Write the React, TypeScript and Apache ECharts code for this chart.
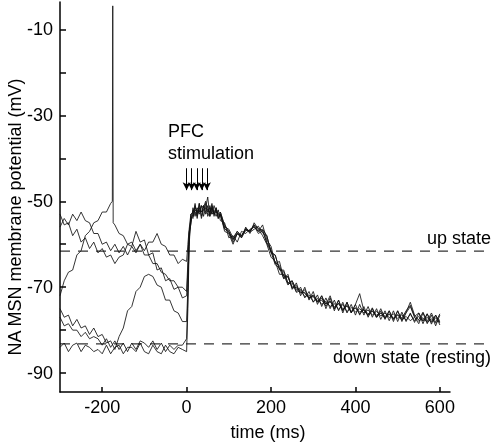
import React, { useEffect, useRef } from "react";
import * as echarts from "echarts";

const preTime = [-300, -290, -280, -270, -260, -250, -240, -230, -220, -210, -200, -190, -180, -170, -160, -150, -140, -130, -120, -110, -100, -90, -80, -70, -60, -50, -40, -30, -20, -10, 0];
const postTime = [3, 6, 10, 15, 20, 25, 30, 35, 40, 45, 50, 55, 60, 65, 70, 75, 80,
  90, 100, 110, 120, 130, 140, 150, 160, 170, 180, 190,
  200, 210, 220, 230, 240, 250, 260, 270, 280, 290, 300,
  310, 320, 330, 340, 350, 360, 370, 380, 390, 400,
  410, 420, 430, 440, 450, 460, 470, 480, 490, 500,
  510, 520, 530, 540, 550, 560, 570, 580, 590, 600];

const trace1Pre = [-53, -55.5, -55, -58, -56.5, -59.5, -58.5, -61, -59.5, -62, -61, -63, -62.5, -64.5, -63, -62.5, -60, -60.5, -57, -59.5, -59, -62.5, -62, -66, -65.5, -68.5, -68, -70.5, -70, -72.5, -72];
const trace1Post = [-66, -58.5, -54, -53.5, -50.5, -54, -50.5, -54, -52, -50.5, -53.5, -52.5, -50.5, -53.5, -51.5, -54, -53,
  -57, -57.5, -60, -57.5, -58, -56.5, -57, -55.5, -57, -55.5, -59,
  -60.5, -64.5, -64, -68, -67, -70.5, -69, -72, -70, -73, -71,
  -74, -72, -75, -72.5, -75.5, -73, -76, -73.5, -76, -74,
  -76.5, -74.5, -77, -75, -77, -75.5, -77.5, -75.5, -78, -75.5,
  -78, -76, -74.5, -77, -78.5, -76, -78.5, -76.5, -79, -76.5];

const trace2Pre = [-56, -54, -55.5, -53, -54.5, -52.5, -54.5, -55, -57.5, -57.5, -60, -59.5, -61.5, -60, -62, -60.5, -62.5, -60.5, -62, -60, -61.5, -59.5, -59.5, -57.5, -60, -60.5, -62.5, -62.5, -64.5, -63.5, -64];
const trace2Post = [-60, -56.5, -53, -52.5, -51.5, -52, -53, -51, -51.5, -50, -52.5, -51.5, -53, -51, -52.5, -53, -52.5,
  -56, -56.5, -58.5, -57, -58.5, -56, -57.5, -55, -56.5, -58, -60,
  -63, -64, -67, -67, -69.5, -68.5, -71, -70, -72.5, -71, -73.5,
  -71.8, -74.5, -72.5, -75, -73, -75.5, -73.5, -76, -74, -76.5,
  -74, -76.5, -74.5, -77, -75, -77.5, -75.5, -77.8, -75.5, -78,
  -75.8, -78, -76, -78.2, -76, -78.5, -76.2, -78.6, -76.5, -78.8];

const trace3Pre = [-72, -68.5, -66.5, -66, -62.5, -61.5, -58, -57, -55, -54.5, -52.5, -52.5, -50.5, -55.5, -57.5, -58, -60, -59.5, -61.5, -60, -62.5, -62.5, -64.5, -64.5, -66.5, -67, -68.5, -68.5, -70, -70, -71];
const trace3Post = [-64, -57, -55.5, -51.5, -53.5, -51.5, -52.5, -51, -53.5, -51.5, -49, -53.5, -51, -52.5, -53.5, -52, -54.5,
  -55, -58.5, -58, -59.5, -57, -57.5, -56.5, -56, -57, -56.5, -58,
  -62, -62.5, -66, -66, -69, -68.5, -70.5, -70.5, -71.5, -72.5, -72,
  -73.5, -72, -74, -72, -75, -73, -75.5, -73.5, -76, -74,
  -71.5, -75.5, -76.5, -74.8, -77, -75, -77.2, -75.5, -77.5, -75.5,
  -77.6, -75.8, -73.5, -76.5, -77.6, -75.8, -78, -76, -78.2, -76.2];
const spikeTime = [-176, -175, -174];
const spikeValues = [-50, -4.5, -55];

const trace4Pre = [-75, -77, -76.5, -79, -77.5, -79.5, -79, -81, -79.5, -81.5, -81, -83, -82.5, -84.5, -81.5, -79.5, -75.5, -74.5, -71, -70, -67.5, -67, -67.5, -69.5, -70, -73, -73, -75.5, -76, -78, -78];
const trace4Post = [-70, -59.5, -53.5, -54, -51, -53, -50.5, -53.5, -51, -52.5, -53, -51, -53, -52.5, -51.5, -53.5, -53,
  -56.5, -57, -59.5, -57.5, -58.5, -56.8, -56.8, -55.8, -57.5, -56.8, -59.8,
  -61.8, -64.8, -65.5, -68, -67.5, -70.2, -70, -71.2, -71.2, -72.5, -72.2,
  -73.4, -73, -74.4, -73.2, -75, -73.8, -75.4, -74.2, -75.8, -74.8,
  -76.2, -75.2, -76.6, -75.5, -77, -76, -77.2, -76.3, -77.4, -76.5,
  -77.6, -76.8, -77.8, -77, -77.9, -77.1, -78.2, -77.4, -78.3, -77.6];

const trace5Pre = [-77, -79, -78.5, -80, -80, -81.5, -80.5, -82, -81.5, -82, -83.5, -82, -84, -82.5, -84.5, -83, -85, -83, -84.5, -82.5, -83, -84, -82.5, -84.5, -83, -85, -83.5, -84.5, -83.5, -83.5, -82];
const trace5Post = [-72, -57.5, -55, -52, -52.5, -53.5, -51.5, -52.5, -51, -53, -51, -53.5, -51.5, -53, -52, -54, -52.5,
  -55.5, -57, -58.8, -57.6, -58.2, -56.3, -57, -55.5, -56.3, -56.8, -59.5,
  -61.3, -64.3, -65, -67.4, -67.6, -70, -69.6, -71.4, -70.6, -72.6, -71.8,
  -73.2, -72.6, -73.9, -73.4, -74.6, -73.8, -75, -74.4, -75.6, -74.8,
  -75.8, -75.2, -76.2, -75.6, -76.5, -76, -76.8, -76.2, -77.2, -76.4,
  -77.2, -75.5, -74.2, -76.8, -76, -77.8, -76.2, -78, -76.5, -78.1];

const trace6Pre = [-84, -83, -85, -83.5, -83, -85, -83.5, -84, -85, -84.5, -85.5, -83.5, -85.5, -84, -83.5, -85.5, -84, -84, -85, -83, -85, -85.5, -83.5, -85, -85.5, -83.5, -85, -85.5, -84, -84.5, -85];
const trace6Post = [-75, -60.5, -53, -53.5, -52, -52.5, -52, -52.5, -52, -51.5, -52, -52.5, -51.5, -53, -52.5, -53, -53.2,
  -56.3, -57.3, -59, -57, -58, -56.5, -57.2, -56.5, -55.8, -57.4, -58,
  -61.8, -62.6, -65.8, -66.4, -69.2, -69, -71.2, -70.8, -72.2, -71.8, -73.4,
  -72.6, -74, -73.3, -74.5, -73.8, -75.2, -74, -75.7, -74.7, -75.8,
  -75, -76, -75.3, -76.5, -75.6, -76.7, -76, -77.1, -76.2, -77.3,
  -76.4, -77.7, -76.3, -77.8, -76.8, -77.9, -77, -78.2, -77.1, -78.3];

const stimTimes = [0, 12, 24, 36, 48];
const upStateMv = -61.6;
const downStateMv = -83.2;
const xTicks = [-200, 0, 200, 400, 600];
const yTicks = [-90, -80, -70, -60, -50, -40, -30, -20, -10];
const yLabels = [-90, -70, -50, -30, -10];

const FONT = "'Liberation Sans', Arial, Helvetica, sans-serif";

function buildTrace(pre: number[], post: number[], extraT?: number[], extraV?: number[]) {
  const pts: number[][] = [];
  pre.forEach((v, i) => pts.push([preTime[i], v]));
  post.forEach((v, i) => pts.push([postTime[i], v]));
  if (extraT && extraV) {
    extraT.forEach((t, i) => pts.push([t, extraV[i]]));
    pts.sort((a, b) => a[0] - b[0]);
  }
  return pts;
}

export default function App() {
  const ref = useRef<HTMLDivElement>(null);
  useEffect(() => {
    if (!ref.current) return;
    const chart = echarts.init(ref.current, null, { renderer: "svg" });
    const traces = [
      buildTrace(trace1Pre, trace1Post),
      buildTrace(trace2Pre, trace2Post),
      buildTrace(trace3Pre, trace3Post, spikeTime, spikeValues),
      buildTrace(trace4Pre, trace4Post),
      buildTrace(trace5Pre, trace5Post),
      buildTrace(trace6Pre, trace6Post),
    ];
    const axisLineStyle = { color: "#000", width: 1.5 };
    const series: any[] = traces.map((d, i) => ({
      type: "line",
      data: d,
      showSymbol: false,
      symbol: "none",
      silent: true,
      lineStyle: { color: "#111", width: 0.85 },
      emphasis: { disabled: true },
      z: 2,
      ...(i === 0
        ? {
            markLine: {
              silent: true,
              symbol: ["none", "arrow"],
              symbolSize: [6, 8],
              label: { show: false },
              emphasis: { disabled: true },
              lineStyle: { color: "#000", width: 1, type: "solid" },
              itemStyle: { color: "#000" },
              data: stimTimes.map((t) => [{ coord: [t, -42.3] }, { coord: [t, -47.4] }]),
            },
          }
        : {}),
    }));
    chart.setOption({
      animation: false,
      grid: { left: 60, right: 48, top: 2, bottom: 53 },
      xAxis: {
        type: "value",
        min: -300,
        max: 624,
        axisLine: { show: true, onZero: false, lineStyle: axisLineStyle },
        axisTick: { show: true, inside: true, length: 5, customValues: xTicks, lineStyle: axisLineStyle },
        axisLabel: { customValues: xTicks, fontSize: 18, color: "#000", fontFamily: FONT, margin: 6 },
        splitLine: { show: false },
      },
      yAxis: {
        type: "value",
        min: -94.4,
        max: -3.6,
        axisLine: { show: true, onZero: false, lineStyle: axisLineStyle },
        axisTick: { show: true, inside: true, length: 6, customValues: yTicks, lineStyle: axisLineStyle },
        axisLabel: { customValues: yLabels, fontSize: 18, color: "#000", fontFamily: FONT, margin: 7 },
        splitLine: { show: false },
      },
      series,
    });
    const p = (t: number, v: number) => chart.convertToPixel({ gridIndex: 0 }, [t, v]) as number[];
    const [xs, yUp] = p(-300, upStateMv);
    const [xe] = p(720, upStateMv);
    const [, yDown] = p(-300, downStateMv);
    const textStyle = (text: string, align: string, vAlign: string) => ({
      text,
      fontSize: 18,
      fontFamily: FONT,
      fill: "#000",
      align,
      textAlign: align,
      verticalAlign: vAlign,
      textVerticalAlign: vAlign,
    });
    chart.setOption({
      graphic: [
        { type: "line", silent: true, shape: { x1: xs, y1: yUp, x2: xe, y2: yUp }, style: { stroke: "#333", lineWidth: 1.3, lineDash: [10, 8] } },
        { type: "line", silent: true, shape: { x1: xs, y1: yDown, x2: xe, y2: yDown }, style: { stroke: "#333", lineWidth: 1.3, lineDash: [10, 8] } },
        { type: "text", silent: true, x: 491, y: yUp - 13, style: textStyle("up state", "right", "middle") },
        { type: "text", silent: true, x: 491, y: yDown + 13.5, style: textStyle("down state (resting)", "right", "middle") },
        { type: "text", silent: true, x: 168, y: 131, style: textStyle("PFC", "left", "middle") },
        { type: "text", silent: true, x: 168, y: 153, style: textStyle("stimulation", "left", "middle") },
        { type: "text", silent: true, x: 268, y: 432, style: textStyle("time (ms)", "center", "middle") },
        { type: "text", silent: true, x: 15, y: 217, rotation: Math.PI / 2, style: textStyle("NA MSN membrane potential (mV)", "center", "middle") },
      ],
    });
    return () => chart.dispose();
  }, []);
  return <div ref={ref} style={{ position: "fixed", left: 0, top: 0, width: 498, height: 445 }} />;
}
